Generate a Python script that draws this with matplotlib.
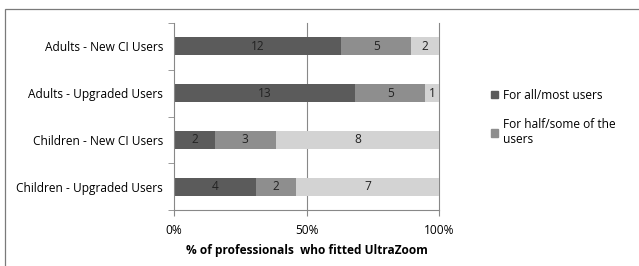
import matplotlib
matplotlib.use("Agg")
import matplotlib.pyplot as plt
import numpy as np
from matplotlib.patches import Rectangle, Patch

plt.rcParams['font.family'] = ['Open Sans', 'DejaVu Sans']

categories = ["Adults - New CI Users", "Adults - Upgraded Users",
              "Children - New CI Users", "Children - Upgraded Users"]
all_most = [12, 13, 2, 4]
half_some = [5, 5, 3, 2]
rest = [2, 1, 8, 7]
series_names = ["For all/most users", "For half/some of the\nusers", "For none of the users"]
colors = ["#5b5b5b", "#8e8e8e", "#d3d3d3"]
xticklabels = ["0%", "50%", "100%"]

FS = 8.6
fig = plt.figure(figsize=(6.39, 2.66), dpi=100)
fig.patches.append(Rectangle((5/639, -0.1), 2, 1 - 9/266 + 0.1, transform=fig.transFigure,
                             fill=False, edgecolor="#7a7a7a", linewidth=0.9))
ax = fig.add_axes([174/639, 1 - 210/266, (439-174)/639, (210-23)/266])

data = np.array([all_most, half_some, rest], dtype=float)
totals = data.sum(axis=0)
pct = data / totals * 100
y = np.arange(len(categories))
left = np.zeros(len(categories))
for i in range(3):
    ax.barh(y, pct[i], left=left, height=0.39, color=colors[i], zorder=2)
    for j in range(len(categories)):
        ax.text(left[j] + pct[i][j]/2, y[j], str(int(data[i][j])), ha="center", va="center",
                fontsize=FS, color="#222222", zorder=3)
    left += pct[i]

ax.set_ylim(len(categories) - 0.5, -0.5)
ax.set_xlim(0, 100)
ax.set_yticks(y)
ax.set_yticklabels(categories, fontsize=FS)
ax.set_yticks(np.arange(-0.5, len(categories), 1), minor=True)
ax.tick_params(axis="y", which="major", length=0, pad=8)
ax.tick_params(axis="y", which="minor", length=4, color="#888888", direction="out")
ax.set_xticks([0, 50, 100])
ax.set_xticklabels(xticklabels, fontsize=FS)
ax.tick_params(axis="x", length=4, color="#888888", pad=6)
for s in ["top", "right"]:
    ax.spines[s].set_visible(False)
ax.spines["left"].set_color("#888888")
ax.spines["bottom"].set_color("#888888")
for xv in [50, 100]:
    ax.axvline(xv, color="#888888", linewidth=0.8, zorder=0, clip_on=False)
ax.set_xlabel("% of professionals  who fitted UltraZoom", fontsize=FS, fontweight="bold", labelpad=5)

handles = [Patch(color=colors[0]), Patch(color=colors[1])]
fig.legend(handles, series_names[:2], loc="upper left", bbox_to_anchor=(480/639, 1 - 78/266),
           frameon=False, fontsize=FS, handlelength=0.6, handleheight=0.6, handletextpad=0.4,
           labelspacing=1.4)

fig.savefig("out.png", dpi=100)
